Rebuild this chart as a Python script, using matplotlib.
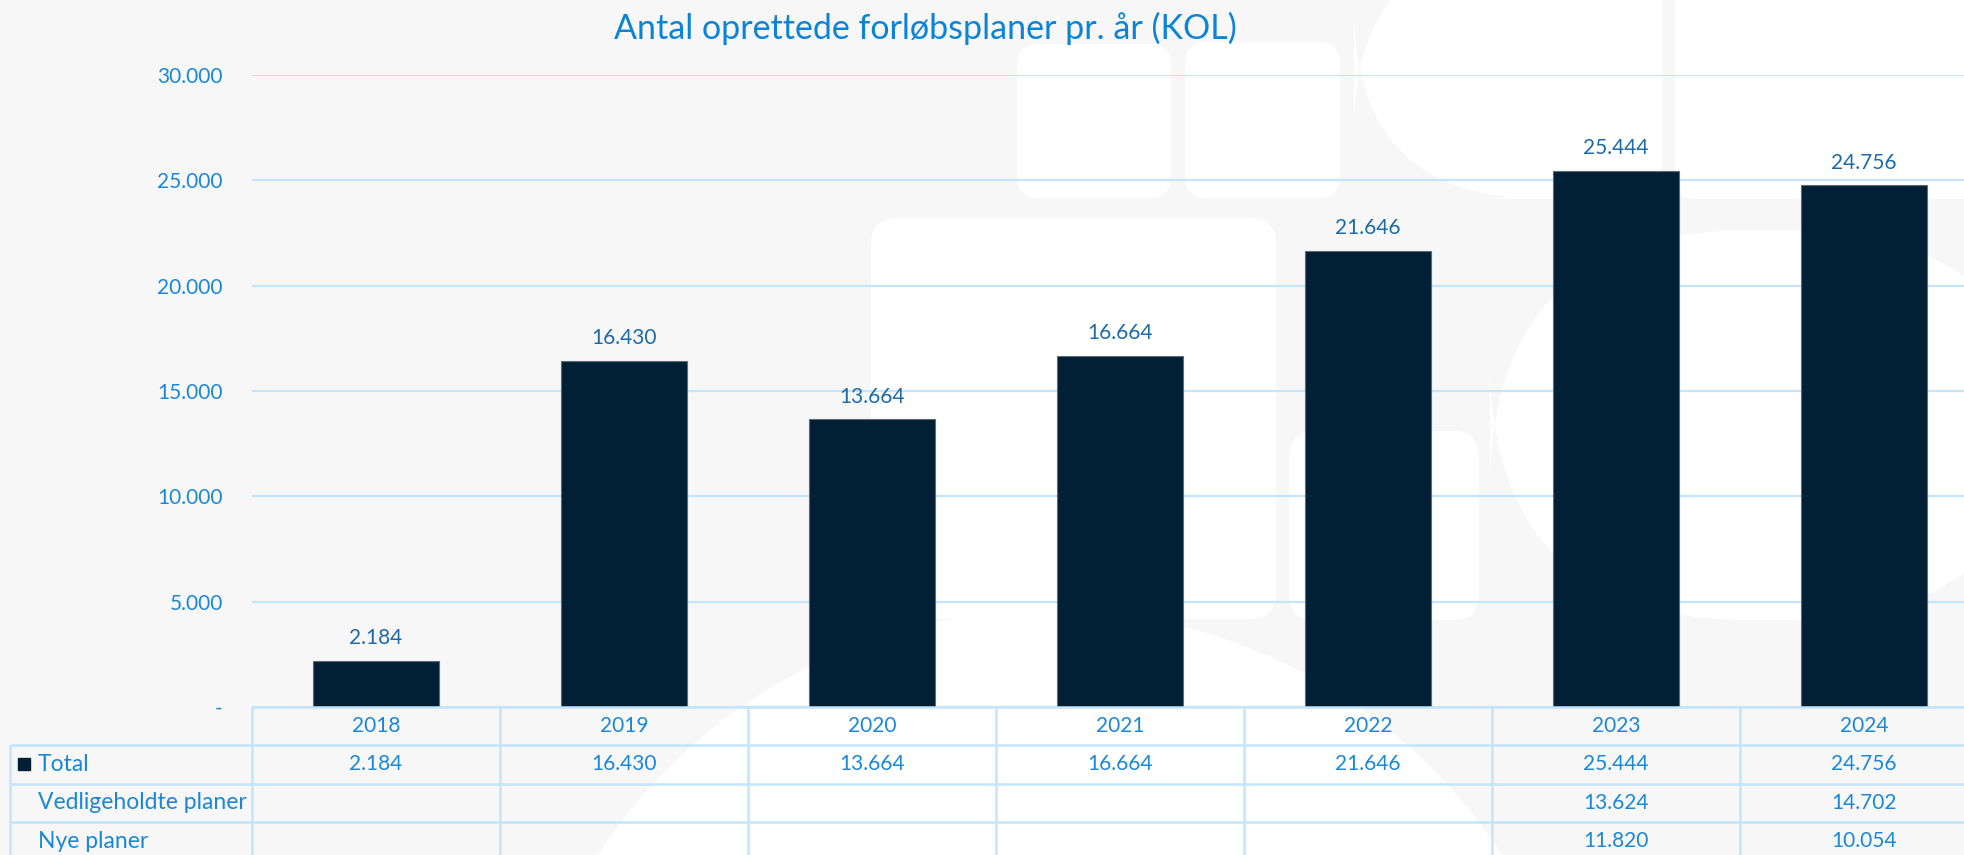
"""
Antal oprettede forløbsplaner pr. år (KOL) -- bar chart with data table below.
"""
import matplotlib
matplotlib.use("Agg")
import matplotlib.pyplot as plt
from matplotlib.patches import FancyBboxPatch, Circle
from matplotlib.ticker import FixedLocator, FuncFormatter

# ─── Data ─────────────────────────────────────────────────────────────────────
title = "Antal oprettede forløbsplaner pr. år (KOL)"
years = ["2018", "2019", "2020", "2021", "2022", "2023", "2024"]
total = [2184, 16430, 13664, 16664, 21646, 25444, 24756]
vedligeholdte = [None, None, None, None, None, 13624, 14702]
nye = [None, None, None, None, None, 11820, 10054]
row_labels = ["Total", "Vedligeholdte planer", "Nye planer"]
y_ticks = [0, 5000, 10000, 15000, 20000, 25000, 30000]

# ─── Style ────────────────────────────────────────────────────────────────────
BG        = "#f7f7f7"
BAR       = "#012035"
GRID      = "#c4e5fb"
TICK_TXT  = "#1a88d6"
LABEL_TXT = "#1d6aa8"
TITLE_TXT = "#0b84d8"
FONT      = ["Lato", "DejaVu Sans"]

plt.rcParams["font.family"] = FONT

# figure geometry in pixels
W, H = 1964, 855
PLOT_L = 252      # left of first column
COL_W = 248       # width of one category column
Y_TOP = 75        # pixel row of 30.000
Y_ZERO = 707      # pixel row of 0 / top of table
ROW_H = 38.3      # table row height


def fmt_dk(v, _pos=None):
    if v == 0:
        return "-"
    return f"{v:,.0f}".replace(",", ".")


fig = plt.figure(figsize=(W / 100, H / 100), dpi=100, facecolor=BG)

# ── decorative background shapes ─────────────────────────────────────────────
bg = fig.add_axes([0, 0, 1, 1], zorder=-1)
bg.set_xlim(0, W)
bg.set_ylim(H, 0)
bg.axis("off")
shapes = [
    (1017, 44, 154, 154, 22),
    (1185, 42, 155, 156, 22),
    (871, 218, 405, 401, 26),
    (1289, 431, 190, 189, 26),
    (1490, 230, 560, 390, 260),
    (1675, -40, 330, 239, 20),
    (1354, -60, 308, 259, 190),
    (1500, -40, 162, 239, 20),
    (921, 820, 170, 80, 22),
]
for x, y, w, h, r in shapes:
    bg.add_patch(FancyBboxPatch((x, y), w, h,
                                boxstyle=f"round,pad=0,rounding_size={r}",
                                fc="white", ec="none"))
bg.add_patch(Circle((1050, 1150), 540, fc="white", ec="none"))

# ── bar chart ─────────────────────────────────────────────────────────────────
x_right = -0.5 + (W - PLOT_L) / COL_W
ax = fig.add_axes([PLOT_L / W, (H - Y_ZERO) / H, (W - PLOT_L) / W, (Y_ZERO - Y_TOP) / H])
ax.set_facecolor("none")
xs = list(range(len(years)))
bars = ax.bar(xs, total, width=0.51, color=BAR, edgecolor="#5d6b76", linewidth=0.8, zorder=3)
for rect, v in zip(bars, total):
    ax.annotate(fmt_dk(v), (rect.get_x() + rect.get_width() / 2, v),
                xytext=(0, 9), textcoords="offset points",
                ha="center", va="bottom", fontsize=15, color=LABEL_TXT)

ax.set_xlim(-0.5, x_right)
ax.set_ylim(0, 30000)
ax.yaxis.set_major_locator(FixedLocator(y_ticks))
ax.yaxis.set_major_formatter(FuncFormatter(fmt_dk))
ax.tick_params(axis="y", length=0, pad=21, labelsize=15, labelcolor=TICK_TXT)
ax.set_xticks([])
ax.grid(axis="y", color=GRID, linewidth=1.6, zorder=0)
for s in ax.spines.values():
    s.set_visible(False)

fig.text(925 / W, 1 - 28 / H, title, ha="center", va="center",
         fontsize=24.5, color=TITLE_TXT)

# ── data table ────────────────────────────────────────────────────────────────
tab = fig.add_axes([0, 0, 1, (H - Y_ZERO) / H])
tab.set_facecolor("none")
x_left = -0.5 - PLOT_L / COL_W
tab.set_xlim(x_left, x_right)
n_rows = (H - Y_ZERO) / ROW_H
tab.set_ylim(n_rows, 0)
tab.axis("off")

lbl_left = x_left + 10 / COL_W
lkw = dict(color=GRID, linewidth=1.8, solid_capstyle="butt", clip_on=False)
tab.plot([-0.5, x_right + 1], [0, 0], **lkw)
for r in range(1, len(row_labels) + 1):
    tab.plot([lbl_left, x_right + 1], [r, r], **lkw)
for i in range(len(years) + 1):
    tab.plot([i - 0.5, i - 0.5], [0, n_rows + 1], **lkw)
tab.plot([lbl_left, lbl_left], [1, n_rows + 1], **lkw)

for i, yr in enumerate(years):
    tab.text(i, 0.5, yr, ha="center", va="center", fontsize=15, color=TICK_TXT)

series = [total, vedligeholdte, nye]
for r, (name, vals) in enumerate(zip(row_labels, series)):
    yc = r + 1.5
    tab.text(x_left + 38 / COL_W, yc, name, ha="left", va="center",
             fontsize=16.5, color=TICK_TXT)
    for i, v in enumerate(vals):
        if v is not None:
            tab.text(i, yc, fmt_dk(v), ha="center", va="center",
                     fontsize=15, color=TICK_TXT)
tab.plot([x_left + 24 / COL_W], [1.5], marker="s", markersize=9, color=BAR, linestyle="none")

fig.savefig("out.png", dpi=100, facecolor=BG)
